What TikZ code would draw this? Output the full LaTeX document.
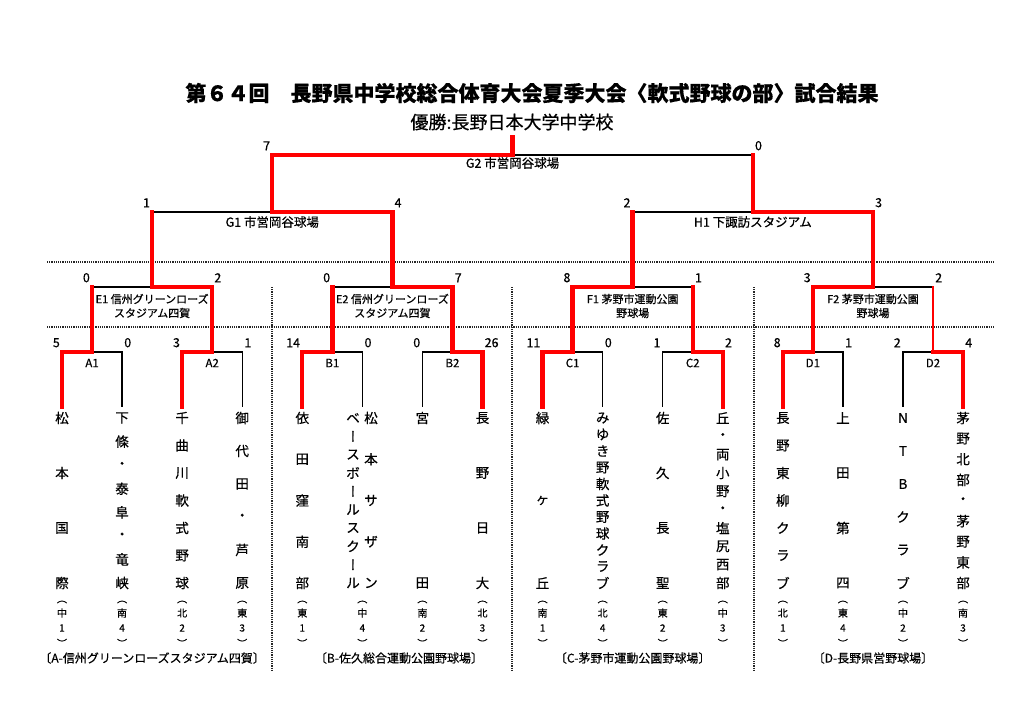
\documentclass[tikz,border=0pt]{standalone}
\usepackage{fontspec}
\setmainfont{Noto Sans CJK JP}[FakeBold=0.5]
\newfontfamily\tatefont[RawFeature=+vert,FakeBold=0.5]{Noto Sans CJK JP}
\usepackage{tikz}

% characters of one team, spread down its column
\newcommand\tatename[3]{%
	\foreach \zi [count=\k] in #3 {\xdef\nchars{\k}}%
	\foreach \zi [count=\k] in #3
		\node[tate] (#1-\k) at (#2,{418+(\k-1)*165/(\nchars-1)}) {\zi};
}
% district under a team
\newcommand\chiku[4]{%
	\node[chiku] (#1-p) at (#2,602) {︵};
	\node[chiku] (#1-a) at (#2,613) {#3};
	\node[chiku] (#1-n) at (#2,628) {#4};
	\node[chiku] (#1-q) at (#2,643) {︶};
}

\begin{document}
\begin{tikzpicture}[x=1pt, y=-1pt,
			win/.style={draw=red, line width=4.4pt, line cap=rect, line join=miter},
			lose/.style={draw=black, line width=1.4pt},
			divider/.style={draw=black!85, line width=2pt, dash pattern=on 1.1pt off 1.1pt},
			score/.style={inner sep=0pt, font=\fontsize{12.5}{12.5}\selectfont},
			kumi/.style={inner sep=0pt, font=\fontsize{11.5}{11.5}\selectfont},
			venue/.style={inner sep=0pt, align=center, font=\fontsize{12.5}{14}\selectfont},
			venue2/.style={inner sep=0pt, align=center, font=\fontsize{11}{14}\selectfont},
			tate/.style={inner sep=0pt, font=\fontsize{13.5}{13.5}\selectfont},
			chiku/.style={inner sep=0pt, font=\fontsize{10}{10}\selectfont},
			field/.style={inner sep=0pt, font=\fontsize{12}{12}\selectfont}]
	\fill[white] (0,0) rectangle (1024,711);
	\useasboundingbox (0,0) rectangle (1024,711);

	\node[font=\fontsize{21}{21}\selectfont\bfseries] (title) at (532,93)
		{第６４回　長野県中学校総合体育大会夏季大会〈軟式野球の部〉試合結果};
	\node[font=\fontsize{18}{18}\selectfont] (yusho) at (512,122) {優勝:長野日本大学中学校};

	% dotted dividers
	\draw[divider] (47,262) -- (995,262);
	\draw[divider] (47,327) -- (995,327);
	\foreach \x in {272,512,754}
		\draw[divider] (\x,287) -- (\x,670);

	% teams and matches
	\foreach \i in {1,...,16}
		\coordinate (t\i) at ({62+60.07*(\i-1)},407);
	\foreach \m/\x/\y in {A1/92.04/352, A2/212.18/352, B1/332.32/352, B2/452.46/352,
			C1/572.6/352, C2/692.74/352, D1/812.88/352, D2/933.02/352,
			E1/152.11/287, E2/392.39/287, F1/632.67/287, F2/872.95/287,
			G1/272.25/212, H1/752.81/212, G2/512.53/155}
		\coordinate (\m) at (\x,\y);
	\coordinate (champ) at (512.53,137);

	\foreach \p/\q in {A1/t2, A2/t4, B1/t6, B2/t7, C1/t10, C2/t11, D1/t14, D2/t15}
		\draw[lose] (\p) -| (\q);
	\foreach \p/\q in {E1/A1, E2/B1, F1/C2, F2/D2, G1/E1, H1/F1, G2/H1}
		\draw[lose] (\p) -- (\p -| \q);
	\foreach \p/\q in {E1/A1, E2/B1, F1/C2, G1/E1, H1/F1, G2/H1}
		\draw[win] (\p -| \q) -- (\q);
	\draw[win, line width=2.6pt] (F2 -| D2) -- (D2);
	\foreach \p/\q in {A1/t1, A2/t3, B1/t5, B2/t8, C1/t9, C2/t12, D1/t13, D2/t16,
			E1/A2, E2/B2, F1/C1, F2/D1, G1/E2, H1/F2, G2/G1}
		\draw[win] (\p) -| (\q);
	\draw[win] (G2) -- (champ);

	% scores
	\foreach \m/\a/\b/\l/\r in {A1/t1/t2/5/0, A2/t3/t4/3/1, B1/t5/t6/14/0, B2/t7/t8/0/26,
			C1/t9/t10/11/0, C2/t11/t12/1/2, D1/t13/t14/8/1, D2/t15/t16/2/4,
			E1/A1/A2/0/2, E2/B1/B2/0/7, F1/C1/C2/8/1, F2/D1/D2/3/2,
			G1/E1/E2/1/4, H1/F1/F2/2/3, G2/G1/H1/7/0}
	{
		\node[score, anchor=south east, xshift=-2pt, yshift=4.5pt] (\m-l) at (\a |- \m) {\l};
		\node[score, anchor=south west, xshift=2pt, yshift=4.5pt] (\m-r) at (\b |- \m) {\r};
	}

	% match names
	\foreach \m in {A1,A2,B1,B2,C1,C2,D1,D2}
		\node[kumi] (\m-name) at ([yshift=-11pt]\m) {\m};
	\node[venue] (G2-name) at ([yshift=-8pt]G2) {G2 市営岡谷球場};
	\node[venue] (G1-name) at ([yshift=-10pt]G1) {G1 市営岡谷球場};
	\node[venue] (H1-name) at ([yshift=-10pt]H1) {H1 下諏訪スタジアム};
	\node[venue2] (E1-name) at ([yshift=-19pt]E1) {E1 信州グリーンローズ\\スタジアム四賀};
	\node[venue2] (E2-name) at ([yshift=-19pt]E2) {E2 信州グリーンローズ\\スタジアム四賀};
	\node[venue2] (F1-name) at ([yshift=-19pt]F1) {F1 茅野市運動公園\\野球場};
	\node[venue2] (F2-name) at ([yshift=-19pt]F2) {F2 茅野市運動公園\\野球場};

	% team names
	\foreach \i/\zis/\area/\no [evaluate=\i as \x using 62+60.07*(\i-1)] in
			{1/{松,本,国,際}/中/1, 2/{下,條,・,泰,阜,・,竜,峡}/南/4,
			3/{千,曲,川,軟,式,野,球}/北/2, 4/{御,代,田,・,芦,原}/東/3,
			5/{依,田,窪,南,部}/東/1, 7/{宮,田}/南/2, 8/{長,野,日,大}/北/3,
			9/{緑,ヶ,丘}/南/1, 10/{み,ゆ,き,野,軟,式,野,球,ク,ラ,ブ}/北/4,
			11/{佐,久,長,聖}/東/2, 12/{丘,・,両,小,野,・,塩,尻,西,部}/中/3,
			13/{長,野,東,柳,ク,ラ,ブ}/北/1, 14/{上,田,第,四}/東/4,
			15/{N,T,B,ク,ラ,ブ}/中/2, 16/{茅,野,北,部,・,茅,野,東,部}/南/3}
	{
		\tatename{n\i}{\x}{\zis}
		\chiku{r\i}{\x}{\area}{\no}
	}
	\tatename{n6r}{371}{{松,本,サ,ザ,ン}}
	\tatename{n6l}{353}{{ベ,{\tatefont ー},ス,ボ,{\tatefont ー},ル,ス,ク,{\tatefont ー},ル}}
	\chiku{r6}{362.35}{中}{4}

	% grounds
	\node[field] (A-field) at (152.11,658) {〔A-信州グリーンローズスタジアム四賀〕};
	\node[field] (B-field) at (399,658) {〔B-佐久総合運動公園野球場〕};
	\node[field] (C-field) at (632.67,658) {〔C-茅野市運動公園野球場〕};
	\node[field] (D-field) at (872.95,658) {〔D-長野県営野球場〕};
\end{tikzpicture}
\end{document}
